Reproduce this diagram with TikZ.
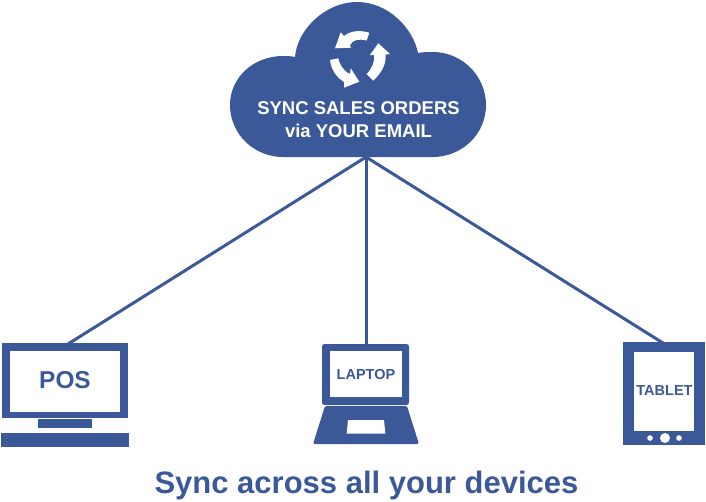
\documentclass[tikz,border=0pt]{standalone}
\usepackage{fontspec}
\setmainfont{Liberation Sans}
\definecolor{brand}{HTML}{3B5998}
\tikzset{
  px/.style={x=1pt,y=-1pt},
  solidpart/.style={fill=brand,draw=none},
  whitepart/.style={fill=white,draw=none},
  link/.style={draw=brand,line width=3pt},
  label/.style={text=brand,font=\bfseries,inner sep=0pt},
  cloudtext/.style={text=white,font=\fontsize{18.5}{22.5}\selectfont\bfseries,align=center,inner sep=0pt}
}
\begin{document}
\begin{tikzpicture}[px]
\useasboundingbox (0,0) rectangle (706,501);
% connectors end points
\coordinate (hub) at (366,157);
\coordinate (posport) at (68,344);
\coordinate (lapport) at (366,345);
\coordinate (tabport) at (663,343);
\draw[link] (hub) -- (posport);
\draw[link] (hub) -- (lapport);
\draw[link] (hub) -- (tabport);
% cloud
\fill[solidpart] (295,57) .. controls (297,30) and (325,2) .. (357,2)
  .. controls (388,2) and (413,28) .. (418,53)
  .. controls (423,52) and (428,52) .. (433,52)
  .. controls (462,52) and (486,76) .. (486,105)
  .. controls (486,134) and (462,157) .. (433,157)
  -- (283,157)
  .. controls (254,157) and (230,134) .. (230,105)
  .. controls (230,77) and (254,56) .. (283,56)
  .. controls (287,56) and (291,56) .. (295,57) -- cycle;
% sync arrows
\fill[whitepart] (369.3,32.7) -- (366.7,40.5) .. controls (358,38.5) and (353,40) .. (350,45)
  -- (351,47.7) -- (335,48.3) -- (340.7,32.3) -- (344,36)
  .. controls (351,30.5) and (360,30) .. (369.3,32.7) -- cycle;
\fill[whitepart] (366.7,74) .. controls (372,68) and (375,62) .. (374,55)
  -- (370,55) -- (378.3,43.3) -- (390,54) -- (385.5,54.5)
  .. controls (386.5,65) and (381,73) .. (373.3,80.7) -- cycle;
\fill[whitepart] (330,60) -- (338.3,58.3) .. controls (339,63) and (343,71) .. (350,74)
  -- (350.7,68.3) -- (359.3,81.7) -- (344,87.7) -- (344,82)
  .. controls (336,77) and (331,69) .. (330,60) -- cycle;
\node[cloudtext] (cloudlabel) at (358.5,119.5) {SYNC SALES ORDERS\\via YOUR EMAIL};
% POS
\node[solidpart,minimum width=126pt,minimum height=75pt,inner sep=0pt] (pos) at (65,380.5) {};
\node[whitepart,minimum width=110pt,minimum height=61pt,inner sep=0pt] (posscreen) at (65,381.5) {};
\node[label,font=\fontsize{24.4}{25}\selectfont\bfseries] (poslabel) at (65,380.5) {POS};
\fill[solidpart] (38,419) rectangle (92,428);
\fill[solidpart] (1,433) rectangle (129,447);
% Laptop
\node[solidpart,rounded corners=2.5pt,minimum width=87pt,minimum height=61pt,inner sep=0pt] (lap) at (365.5,374.5) {};
\node[whitepart,minimum width=72pt,minimum height=46pt,inner sep=0pt] (lapscreen) at (366,374) {};
\node[label,font=\fontsize{14.5}{15}\selectfont\bfseries] (laplabel) at (366,375) {LAPTOP};
\fill[solidpart,rounded corners=1.5pt] (325,406) -- (407,406) -- (419,444) -- (313,444) -- cycle;
\fill[whitepart] (348,420) -- (384,420) -- (385.3,433.5) -- (346.7,433.5) -- cycle;
% Tablet
\node[solidpart,minimum width=82pt,minimum height=103pt,inner sep=0pt] (tab) at (664,393.5) {};
\node[whitepart,minimum width=60pt,minimum height=79pt,inner sep=0pt] (tabscreen) at (664,391.5) {};
\node[label,font=\fontsize{14.5}{15}\selectfont\bfseries] (tablabel) at (664.5,391) {TABLET};
\fill[whitepart] (650,438) circle (2.8);
\fill[whitepart] (665,438) circle (5);
\fill[whitepart] (679,438) circle (2.8);
% caption
\node[label,font=\fontsize{31}{32}\selectfont\bfseries] (caption) at (366.5,485) {Sync across all your devices};
\end{tikzpicture}
\end{document}
